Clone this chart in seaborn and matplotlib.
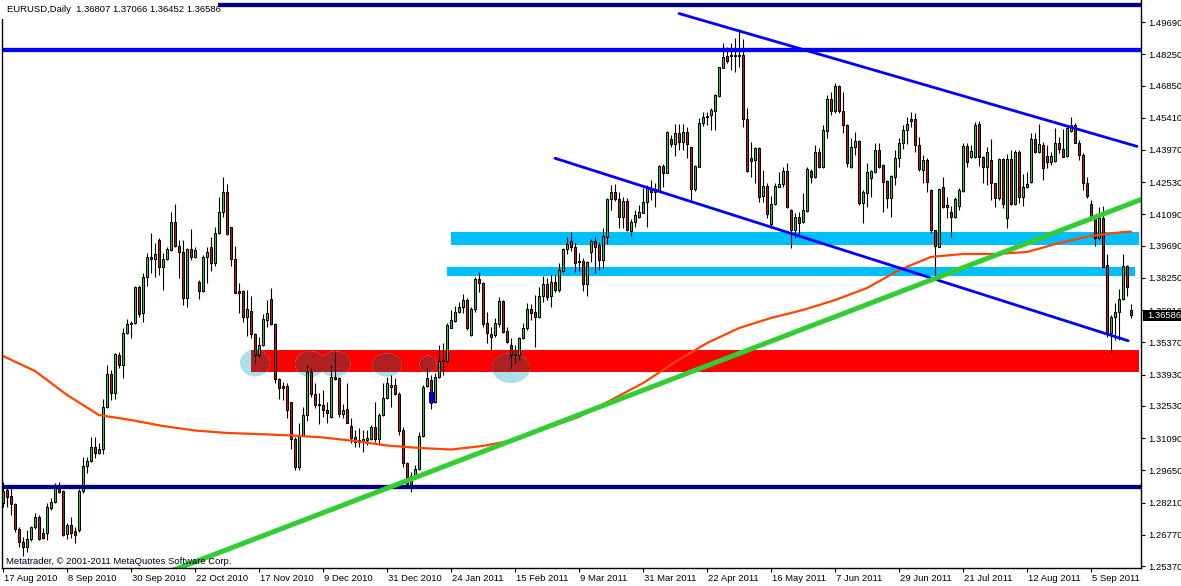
import numpy as np
import pandas as pd
import matplotlib
matplotlib.use("Agg")
import matplotlib.pyplot as plt
import seaborn as sns
from matplotlib.patches import Rectangle, Ellipse
from matplotlib import font_manager
from matplotlib.transforms import ScaledTranslation

sns.set_style("white")
names = {f.name for f in font_manager.fontManager.ttflist}
if 'Liberation Sans Narrow' in names:
    FAM, FS = ['Liberation Sans Narrow', 'DejaVu Sans'], 8.0
else:
    FAM, FS = ['Liberation Sans', 'DejaVu Sans'], 6.8
plt.rcParams['font.family'] = FAM

# ---------------- data (EURUSD daily) ----------------
opens = [1.2818,1.2877,1.2850,1.2815,1.2701,1.2643,1.2624,1.2660,1.2710,1.2758,
1.2686,1.2683,1.2798,1.2822,1.2889,1.2871,1.2679,1.2719,1.2692,1.2698,
1.2871,1.2984,1.3007,1.3068,1.3044,1.3060,1.3247,1.3396,1.3309,1.3479,
1.3434,1.3577,1.3618,1.3622,1.3786,1.3670,1.3828,1.3920,1.3908,1.3995,
1.3875,1.3908,1.3950,1.4074,1.3966,1.3941,1.3734,1.3953,1.3920,1.3805,
1.3768,1.3920,1.3965,1.3890,1.4024,1.4118,1.4208,1.4051,1.3908,1.3767,
1.3767,1.3652,1.3677,1.3573,1.3479,1.3524,1.3637,1.3729,1.3619,1.3372,
1.3342,1.3342,1.3270,1.3107,1.2978,1.3122,1.3212,1.3403,1.3305,1.3262,
1.3259,1.3235,1.3202,1.3382,1.3376,1.3215,1.3238,1.3163,1.3116,1.3101,
1.3098,1.3101,1.3104,1.3157,1.3104,1.3212,1.3287,1.3336,1.3346,1.3306,
1.3145,1.2996,1.2902,1.2938,1.2969,1.3119,1.3342,1.3369,1.3272,1.3381,
1.3454,1.3455,1.3603,1.3634,1.3674,1.3694,1.3726,1.3570,1.3685,1.3819,
1.3801,1.3622,1.3573,1.3570,1.3619,1.3722,1.3588,1.3524,1.3479,1.3481,
1.3555,1.3600,1.3685,1.3673,1.3649,1.3744,1.3798,1.3744,1.3808,1.3771,
1.3858,1.3953,1.3990,1.3963,1.3896,1.3899,1.3798,1.3942,1.3990,1.3971,
1.3905,1.4010,1.4176,1.4208,1.4178,1.4096,1.4170,1.4036,1.4077,1.4099,
1.4117,1.4166,1.4225,1.4211,1.4215,1.4325,1.4296,1.4445,1.4424,1.4471,
1.4434,1.4479,1.4409,1.4221,1.4322,1.4516,1.4543,1.4553,1.4573,1.4638,
1.4765,1.4817,1.4817,1.4822,1.4817,1.4822,1.4534,1.4360,1.4352,1.4407,
1.4191,1.4236,1.4066,1.4156,1.4233,1.4245,1.4303,1.4129,1.4039,1.4099,
1.4077,1.4126,1.4305,1.4278,1.4388,1.4322,1.4483,1.4623,1.4573,1.4683,
1.4571,1.4507,1.4322,1.4409,1.4437,1.4159,1.4206,1.4270,1.4300,1.4397,
1.4330,1.4258,1.4181,1.4278,1.4360,1.4427,1.4486,1.4534,1.4534,1.4419,
1.4308,1.4352,1.4218,1.4039,1.3965,1.4230,1.4141,1.4121,1.4096,1.4147,
1.4215,1.4415,1.4367,1.4367,1.4513,1.4364,1.4322,1.4352,1.4248,1.4181,
1.4355,1.4091,1.4355,1.4156,1.4389,1.4188,1.4230,1.4255,1.4445,1.4389,
1.4419,1.4370,1.4345,1.4349,1.4430,1.4400,1.4370,1.4483,1.4509,1.4430,
1.4374,1.4251,1.4156,1.4087,1.4002,1.4091,1.3883,1.3580,1.3652,1.3671,
1.3731,1.3878,1.3681]
highs = [1.2914,1.2900,1.2892,1.2818,1.2713,1.2669,1.2698,1.2716,1.2776,1.2765,
1.2706,1.2818,1.2840,1.2907,1.2914,1.2877,1.2728,1.2758,1.2713,1.2883,
1.3026,1.3023,1.3112,1.3116,1.3086,1.3282,1.3436,1.3414,1.3491,1.3495,
1.3600,1.3640,1.3634,1.3789,1.3793,1.3846,1.3938,1.4024,1.3980,1.4002,
1.3935,1.3962,1.4121,1.4156,1.3995,1.3995,1.3957,1.4042,1.3962,1.3816,
1.3928,1.3962,1.4007,1.4054,1.4185,1.4275,1.4245,1.4054,1.3968,1.3801,
1.3771,1.3771,1.3744,1.3577,1.3560,1.3664,1.3726,1.3779,1.3622,1.3376,
1.3361,1.3354,1.3272,1.3115,1.3175,1.3250,1.3436,1.3421,1.3354,1.3309,
1.3324,1.3272,1.3436,1.3495,1.3384,1.3262,1.3354,1.3197,1.3145,1.3153,
1.3145,1.3145,1.3168,1.3272,1.3220,1.3354,1.3384,1.3391,1.3376,1.3317,
1.3160,1.3004,1.2957,1.2989,1.3138,1.3346,1.3421,1.3391,1.3399,1.3525,
1.3533,1.3622,1.3682,1.3699,1.3719,1.3753,1.3734,1.3697,1.3831,1.3853,
1.3808,1.3671,1.3607,1.3644,1.3738,1.3726,1.3607,1.3555,1.3525,1.3562,
1.3622,1.3712,1.3709,1.3749,1.3786,1.3834,1.3826,1.3838,1.3838,1.3890,
1.3957,1.4006,1.4032,1.3980,1.3938,1.3913,1.3902,1.3998,1.4010,1.3987,
1.4047,1.4181,1.4240,1.4245,1.4211,1.4188,1.4181,1.4090,1.4129,1.4151,
1.4225,1.4240,1.4263,1.4248,1.4330,1.4334,1.4483,1.4464,1.4513,1.4513,
1.4513,1.4501,1.4412,1.4330,1.4538,1.4568,1.4568,1.4583,1.4647,1.4769,
1.4874,1.4859,1.4874,1.4896,1.4936,1.4892,1.4583,1.4434,1.4412,1.4412,
1.4308,1.4248,1.4191,1.4248,1.4300,1.4322,1.4337,1.4133,1.4114,1.4121,
1.4203,1.4322,1.4310,1.4419,1.4407,1.4509,1.4643,1.4658,1.4695,1.4687,
1.4658,1.4515,1.4449,1.4479,1.4442,1.4218,1.4337,1.4308,1.4427,1.4427,
1.4334,1.4263,1.4285,1.4397,1.4449,1.4509,1.4543,1.4568,1.4561,1.4456,
1.4374,1.4360,1.4221,1.4039,1.4226,1.4275,1.4188,1.4147,1.4188,1.4226,
1.4430,1.4430,1.4419,1.4524,1.4528,1.4370,1.4412,1.4445,1.4251,1.4360,
1.4360,1.4380,1.4397,1.4397,1.4397,1.4290,1.4300,1.4474,1.4471,1.4513,
1.4434,1.4419,1.4389,1.4494,1.4456,1.4489,1.4501,1.4546,1.4517,1.4442,
1.4382,1.4278,1.4173,1.4091,1.4144,1.4147,1.3932,1.3659,1.3712,1.3776,
1.3932,1.3883,1.3707]
lows = [1.2803,1.2803,1.2765,1.2691,1.2624,1.2582,1.2601,1.2651,1.2701,1.2654,
1.2657,1.2654,1.2788,1.2818,1.2862,1.2671,1.2657,1.2661,1.2639,1.2691,
1.2862,1.2955,1.3004,1.3019,1.3038,1.3040,1.3242,1.3279,1.3282,1.3421,
1.3376,1.3574,1.3555,1.3619,1.3652,1.3630,1.3789,1.3846,1.3828,1.3838,
1.3771,1.3905,1.3947,1.3965,1.3823,1.3704,1.3694,1.3905,1.3913,1.3729,
1.3764,1.3801,1.3858,1.3878,1.4021,1.4096,1.4017,1.3878,1.3756,1.3667,
1.3630,1.3566,1.3555,1.3443,1.3473,1.3521,1.3604,1.3615,1.3357,1.3282,
1.3279,1.3197,1.3059,1.2967,1.2967,1.3119,1.3187,1.3294,1.3242,1.3172,
1.3205,1.3175,1.3197,1.3369,1.3205,1.3197,1.3175,1.3086,1.3071,1.3071,
1.3049,1.3078,1.3101,1.3093,1.3078,1.3208,1.3282,1.3247,1.3302,1.3123,
1.2981,1.2890,1.2870,1.2936,1.2966,1.3116,1.3336,1.3238,1.3268,1.3376,
1.3391,1.3451,1.3600,1.3630,1.3667,1.3667,1.3592,1.3566,1.3674,1.3764,
1.3604,1.3536,1.3503,1.3562,1.3607,1.3577,1.3533,1.3421,1.3443,1.3458,
1.3551,1.3592,1.3637,1.3518,1.3644,1.3719,1.3725,1.3693,1.3764,1.3764,
1.3853,1.3932,1.3947,1.3853,1.3858,1.3768,1.3744,1.3898,1.3849,1.3861,
1.3868,1.3977,1.4129,1.4170,1.4047,1.4047,1.4036,1.4012,1.4054,1.4091,
1.4114,1.4054,1.4173,1.4144,1.4211,1.4233,1.4293,1.4412,1.4370,1.4397,
1.4397,1.4360,1.4173,1.4215,1.4319,1.4504,1.4509,1.4486,1.4486,1.4632,
1.4762,1.4784,1.4755,1.4747,1.4769,1.4501,1.4300,1.4278,1.4248,1.4166,
1.4166,1.4091,1.4046,1.4151,1.4233,1.4233,1.4136,1.3957,1.4002,1.4009,
1.4069,1.4121,1.4251,1.4270,1.4315,1.4315,1.4449,1.4553,1.4561,1.4561,
1.4471,1.4322,1.4315,1.4375,1.4151,1.4069,1.4144,1.4188,1.4296,1.4315,
1.4121,1.4136,1.4099,1.4240,1.4322,1.4400,1.4424,1.4501,1.4389,1.4305,
1.4248,1.4211,1.4024,1.3831,1.3962,1.4136,1.4091,1.4010,1.4091,1.4129,
1.4211,1.4322,1.4360,1.4360,1.4325,1.4248,1.4240,1.4173,1.4141,1.4173,
1.4136,1.4047,1.4151,1.4151,1.4161,1.4147,1.4226,1.4251,1.4382,1.4382,
1.4263,1.4315,1.4330,1.4345,1.4382,1.4364,1.4364,1.4479,1.4427,1.4352,
1.4218,1.4181,1.4084,1.3968,1.3995,1.3872,1.3560,1.3491,1.3548,1.3548,
1.3726,1.3744,1.3645]
closes = [1.2874,1.2847,1.2815,1.2703,1.2643,1.2624,1.2658,1.2710,1.2755,1.2660,
1.2661,1.2800,1.2824,1.2889,1.2870,1.2677,1.2719,1.2683,1.2676,1.2871,
1.2984,1.3007,1.3069,1.3044,1.3060,1.3247,1.3396,1.3309,1.3485,1.3434,
1.3577,1.3618,1.3622,1.3786,1.3664,1.3828,1.3920,1.3908,1.3931,1.3875,
1.3908,1.3953,1.4074,1.3969,1.3942,1.3734,1.3953,1.3917,1.3950,1.3768,
1.3920,1.3941,1.3890,1.4024,1.4118,1.4208,1.4021,1.3908,1.3759,1.3759,
1.3652,1.3685,1.3573,1.3479,1.3524,1.3640,1.3667,1.3619,1.3372,1.3332,
1.3332,1.3235,1.3104,1.2978,1.3122,1.3212,1.3406,1.3305,1.3257,1.3257,
1.3235,1.3220,1.3382,1.3372,1.3215,1.3235,1.3178,1.3111,1.3093,1.3093,
1.3104,1.3108,1.3157,1.3104,1.3212,1.3287,1.3357,1.3346,1.3306,1.3142,
1.2996,1.2902,1.2940,1.2969,1.3119,1.3339,1.3376,1.3265,1.3381,1.3454,
1.3458,1.3615,1.3637,1.3674,1.3694,1.3726,1.3603,1.3685,1.3819,1.3801,
1.3619,1.3577,1.3562,1.3622,1.3722,1.3585,1.3540,1.3481,1.3485,1.3555,
1.3600,1.3685,1.3670,1.3649,1.3744,1.3798,1.3741,1.3808,1.3771,1.3861,
1.3953,1.3977,1.3962,1.3893,1.3899,1.3798,1.3896,1.3990,1.3965,1.3905,
1.4013,1.4176,1.4208,1.4178,1.4096,1.4170,1.4040,1.4077,1.4106,1.4118,
1.4166,1.4233,1.4211,1.4221,1.4327,1.4296,1.4479,1.4424,1.4471,1.4434,
1.4479,1.4424,1.4221,1.4325,1.4516,1.4543,1.4550,1.4576,1.4643,1.4766,
1.4814,1.4796,1.4822,1.4817,1.4822,1.4534,1.4305,1.4349,1.4407,1.4188,
1.4236,1.4109,1.4156,1.4236,1.4245,1.4303,1.4144,1.4039,1.4099,1.4072,
1.4129,1.4310,1.4278,1.4389,1.4322,1.4486,1.4623,1.4573,1.4683,1.4571,
1.4507,1.4337,1.4412,1.4437,1.4159,1.4211,1.4297,1.4303,1.4397,1.4322,
1.4255,1.4181,1.4281,1.4360,1.4427,1.4486,1.4513,1.4528,1.4419,1.4311,
1.4352,1.4255,1.4039,1.3968,1.4221,1.4141,1.4151,1.4096,1.4176,1.4218,
1.4415,1.4345,1.4394,1.4509,1.4364,1.4322,1.4389,1.4248,1.4181,1.4355,
1.4156,1.4355,1.4156,1.4389,1.4188,1.4230,1.4245,1.4445,1.4389,1.4424,
1.4315,1.4345,1.4370,1.4430,1.4400,1.4367,1.4494,1.4509,1.4430,1.4374,
1.4251,1.4191,1.4087,1.4002,1.4091,1.3875,1.3580,1.3652,1.3674,1.3731,
1.3878,1.3786,1.3659]

tick_bars = [0, 16, 32, 48, 64, 80, 96, 112, 128, 144, 160, 176, 192, 208, 224, 240, 256, 272]
tick_dates = ["17 Aug 2010", "8 Sep 2010", "30 Sep 2010", "22 Oct 2010", "17 Nov 2010",
              "9 Dec 2010", "31 Dec 2010", "24 Jan 2011", "15 Feb 2011", "9 Mar 2011",
              "31 Mar 2011", "22 Apr 2011", "16 May 2011", "7 Jun 2011", "29 Jun 2011",
              "21 Jul 2011", "12 Aug 2011", "5 Sep 2011"]
price_ticks = [1.49690, 1.48250, 1.46850, 1.45410, 1.43970, 1.42530, 1.41090, 1.39690,
               1.38250, 1.36810, 1.35370, 1.33930, 1.32530, 1.31090, 1.29650, 1.28210,
               1.26770, 1.25370]

ma_bars = [0, 8, 16, 24, 32, 40, 48, 56, 64, 72, 80, 88, 96, 104, 112, 120, 128, 136,
           144, 152, 160, 168, 176, 184, 192, 200, 208, 216, 224, 232, 240, 248, 256,
           264, 272, 280, 282]
ma_values = [1.3476, 1.3409, 1.3302, 1.3212, 1.3190, 1.3163, 1.3143, 1.3132, 1.3127,
             1.3121, 1.3112, 1.3096, 1.3076, 1.3065, 1.3058, 1.3074, 1.3101, 1.3154,
             1.3204, 1.3279, 1.3355, 1.3449, 1.3534, 1.3601, 1.3646, 1.3682, 1.3726,
             1.3780, 1.3860, 1.3919, 1.3932, 1.3932, 1.3941, 1.3981, 1.4013, 1.4030, 1.4032]

# drawn objects (bar index, price)
hlines_price = [1.5045, 1.4842, 1.2890]
hlines_color = ['#000080', '#0000FF', '#000080']
upper_channel = ([169, 283.5], [1.5007, 1.4413])
lower_channel = ([138, 281.3], [1.4360, 1.3544])
green_trend = ([42, 284.6], [1.2515, 1.4176])
band_upper = (112, 284, 1.3972, 1.4032)
band_lower = (111, 283, 1.3834, 1.3875)
band_red = (62, 284, 1.3406, 1.3503)
ellipse_x = [63, 76.75, 83, 96, 106.25, 127]
ellipse_y = [1.3445, 1.3440, 1.3440, 1.3436, 1.3440, 1.3422]
ellipse_w = [7.5, 7.5, 7.75, 7.5, 4.25, 9.5]
ellipse_h = [0.0121, 0.0116, 0.0116, 0.0103, 0.0076, 0.0134]

# ---------------- figure ----------------
W, H = 1181, 586
fig = plt.figure(figsize=(W / 100, H / 100), dpi=100)
fig.patch.set_facecolor('white')
ax = fig.add_axes([2 / W, (H - 568) / H, (1141 - 2) / W, 568 / H])
ax.set_facecolor('white')
ax.set_xlim(-0.25, 284.5)
ax.set_ylim(1.25284, 1.50674)

def rect(b, color, z):
    ax.add_patch(Rectangle((b[0], b[2]), b[1] - b[0], b[3] - b[2], facecolor=color,
                           edgecolor='none', zorder=z))

rect(band_upper, '#00BFFF', 1)
rect(band_lower, '#00BFFF', 1)
red_patch = Rectangle((band_red[0], band_red[2]), band_red[1] - band_red[0],
                      band_red[3] - band_red[2], facecolor='#FF0000', edgecolor='none', zorder=1)
ax.add_patch(red_patch)
for ex, ey, ew, eh in zip(ellipse_x, ellipse_y, ellipse_w, ellipse_h):
    ax.add_patch(Ellipse((ex, ey), ew, eh, facecolor='#ADDFE8', edgecolor='none', zorder=2))
    e2 = Ellipse((ex, ey), ew, eh, facecolor='#B02020', edgecolor='none', zorder=2.5)
    ax.add_patch(e2)
    e2.set_clip_path(red_patch)

# candles
df = pd.DataFrame({'bar': np.arange(len(closes)), 'open': opens, 'high': highs,
                   'low': lows, 'close': closes})
df['up'] = df['close'] >= df['open']
df['body'] = np.maximum((df['close'] - df['open']).abs(), 0.00012)
df['bottom'] = df[['open', 'close']].min(axis=1)
ax.vlines(df['bar'], df['low'], df['high'], color='black', lw=0.8, zorder=4)
u = df[df['up']]
d = df[~df['up']]
ax.bar(u['bar'], u['body'], bottom=u['bottom'], width=0.7, color='#32CD32',
       edgecolor='black', linewidth=0.75, zorder=5)
ax.bar(d['bar'], d['body'], bottom=d['bottom'], width=0.7, color='#CC1414',
       edgecolor='black', linewidth=0.75, zorder=5)
ax.add_patch(Rectangle((106.6, 1.3265), 1.1, 0.0052, facecolor='#0000CD',
                       edgecolor='none', zorder=5.5))

# moving average
sns.lineplot(x=ma_bars, y=ma_values, ax=ax, color='#FF4500', lw=1.6, zorder=7)

# trend / horizontal lines
for p, c in zip(hlines_price, hlines_color):
    ax.axhline(p, color=c, lw=3.1, zorder=8, solid_capstyle='butt')
ax.plot(*upper_channel, color='#0000FF', lw=2.0, zorder=8)
ax.plot(*lower_channel, color='#0000FF', lw=2.0, zorder=8)
ax.plot(*green_trend, color='#32CD32', lw=3.6, zorder=8, solid_capstyle='butt')

# axes styling
ax.spines['top'].set_visible(False)
for s in ['left', 'bottom', 'right']:
    ax.spines[s].set_color('black')
    ax.spines[s].set_linewidth(1.0)
    ax.spines[s].set_zorder(20)
ax.yaxis.tick_right()
ax.set_yticks(price_ticks)
ax.set_yticklabels([f"{v:.5f}" for v in price_ticks])
ax.tick_params(axis='y', direction='out', length=3, width=0.8, pad=2.5,
               labelsize=FS, colors='black', right=True, left=False)
ax.set_xticks(tick_bars)
ax.set_xticklabels(tick_dates)
ax.tick_params(axis='x', direction='out', length=3, width=0.8, pad=1.5,
               labelsize=FS, colors='black', bottom=True)
off = ScaledTranslation(1.5 / 100, 0, fig.dpi_scale_trans)
for lbl in ax.get_xticklabels():
    lbl.set_horizontalalignment('left')
    lbl.set_transform(lbl.get_transform() + off)
ax.set_xlabel('')
ax.set_ylabel('')

# header box and texts
fig.patches.append(Rectangle((0, 1 - 19 / H), 218 / W, 19 / H, transform=fig.transFigure,
                             facecolor='white', edgecolor='none', zorder=5))
fig.text(7 / W, 1 - 10 / H, "EURUSD,Daily  1.36807 1.37066 1.36452 1.36586",
         ha='left', va='center', fontsize=FS, color='black', zorder=6)
fig.text(6 / W, 1 - 561 / H, "Metatrader, \u00a9 2001-2011 MetaQuotes Software Corp.",
         ha='left', va='center', fontsize=FS, color='#000020', zorder=6)
fig.patches.append(Rectangle((1143 / W, 1 - 320.5 / H), 38 / W, 10.5 / H,
                             transform=fig.transFigure, facecolor='black',
                             edgecolor='none', zorder=5))
fig.text(1147 / W, 1 - 315.5 / H, "1.36586", ha='left', va='center', fontsize=FS,
         color='white', zorder=6)

fig.savefig("out.png", dpi=100, facecolor='white')
